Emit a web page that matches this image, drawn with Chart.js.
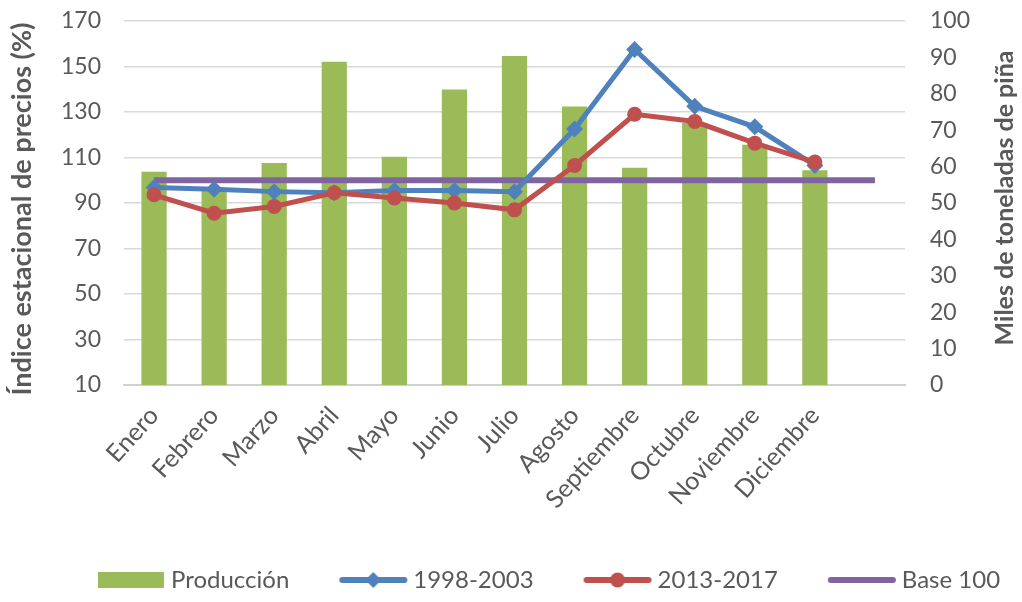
<!DOCTYPE html>
<html>
<head>
<meta charset="utf-8">
<script src="https://cdn.jsdelivr.net/npm/chart.js@4.4.1/dist/chart.umd.min.js"></script>
<style>
  html, body { margin: 0; padding: 0; background: #ffffff; }
  #wrap { width: 1022px; height: 602px; }
</style>
</head>
<body>
<div id="wrap"><canvas id="grafico" width="1022" height="602"></canvas></div>
<script>
// Categorías (la última ranura queda vacía para prolongar la línea base)
const meses = ['Enero', 'Febrero', 'Marzo', 'Abril', 'Mayo', 'Junio', 'Julio',
               'Agosto', 'Septiembre', 'Octubre', 'Noviembre', 'Diciembre', ''];

// Producción mensual (miles de toneladas de piña, eje derecho)
const produccion = [58.6, 53.5, 61, 88.8, 62.7, 81.2, 90.4, 76.5, 59.7, 72, 66, 59];

// Índice estacional de precios (%) por periodo (eje izquierdo)
const indice1998_2003 = [96.8, 96, 95, 94.5, 95.5, 95.5, 95, 122.5, 157.5, 132.5, 123.5, 106.5];
const indice2013_2017 = [93.6, 85.5, 88.5, 94.5, 92.2, 90, 87, 106.5, 129, 125.8, 116.3, 108];
const base100 = [100, 100, 100, 100, 100, 100, 100, 100, 100, 100, 100, 100, 100];

// Marcas de los ejes
const ticksPrecios = [10, 30, 50, 70, 90, 110, 130, 150, 170];
const ticksProduccion = [0, 10, 20, 30, 40, 50, 60, 70, 80, 90, 100];

const COLOR_TEXTO = '#595959';
const FUENTE = 'Lato, "Open Sans", sans-serif';
const VERDE = '#9BBB59';
const AZUL = '#4F81BD';
const ROJO = '#C0504D';
const MORADO = '#8064A2';

const AREA_SUP = 21;      // borde superior del área de trazado
const AREA_IZQ = 124;     // borde izquierdo del área de trazado
const AREA_DER = 905;     // borde derecho del área de trazado
const AREA_INF = 385;     // borde inferior del área de trazado
const EXTRA_DER = 81;     // ensancha la caja de la leyenda hacia la derecha
const CAJA_LEYENDA = 56;  // ancho reservado al icono de la leyenda
const SOBRANTE = 7;       // el icono sobresale a cada lado de su caja

// Iconos de la leyenda: rectángulo para barras, línea con marcador para series
function iconoLeyenda(tipo, color) {
  const c = document.createElement('canvas');
  c.width = CAJA_LEYENDA + 2 * SOBRANTE; c.height = 20;
  const g = c.getContext('2d');
  const w = c.width;
  g.fillStyle = color;
  g.strokeStyle = color;
  if (tipo === 'barra') {
    g.fillRect(2, 2, w - 4, 16);
  } else {
    g.lineWidth = 6;
    g.lineCap = 'round';
    g.beginPath();
    g.moveTo(4, 10); g.lineTo(w - 4, 10);
    g.stroke();
    const m = w / 2;
    if (tipo === 'rombo') {
      g.beginPath();
      g.moveTo(m, 2); g.lineTo(m + 8, 10); g.lineTo(m, 18); g.lineTo(m - 8, 10);
      g.closePath(); g.fill();
    } else if (tipo === 'circulo') {
      g.beginPath(); g.arc(m, 10, 7.5, 0, Math.PI * 2); g.fill();
    }
  }
  return c;
}
const iconos = [
  iconoLeyenda('barra', VERDE),
  iconoLeyenda('rombo', AZUL),
  iconoLeyenda('circulo', ROJO),
  iconoLeyenda('linea', MORADO)
];

// Títulos verticales de ambos ejes, leídos de abajo hacia arriba
function tituloVertical(ctx, texto, x, y, size) {
  ctx.save();
  ctx.fillStyle = COLOR_TEXTO;
  ctx.font = 'bold ' + size + 'px ' + FUENTE;
  ctx.textAlign = 'center';
  ctx.textBaseline = 'middle';
  ctx.translate(x, y);
  ctx.rotate(-Math.PI / 2);
  ctx.fillText(texto, 0, 0);
  ctx.restore();
}
const titulosEjes = {
  id: 'titulosEjes',
  afterDraw(chart) {
    const ctx = chart.ctx;
    tituloVertical(ctx, 'Índice estacional de precios (%)', 22, 209, 27);
    tituloVertical(ctx, 'Miles de toneladas de piña', 1005, 198, 25);
  }
};

// Fija el borde superior del área de trazado y de los ejes verticales
const ajusteArea = {
  id: 'ajusteArea',
  afterLayout(chart) {
    const area = chart.chartArea;
    area.top = AREA_SUP;
    area.height = area.bottom - AREA_SUP;
    ['y', 'y1'].forEach(id => {
      const s = chart.scales[id];
      s.top = AREA_SUP;
      s.height = s.bottom - AREA_SUP;
      s.configure();
    });
  }
};

new Chart(document.getElementById('grafico'), {
  type: 'bar',
  data: {
    labels: meses,
    datasets: [
      {
        type: 'bar',
        label: 'Producción',
        data: produccion,
        yAxisID: 'y1',
        backgroundColor: VERDE,
        borderWidth: 0,
        categoryPercentage: 1,
        barPercentage: 0.42,
        order: 4
      },
      {
        type: 'line',
        label: '1998-2003',
        data: indice1998_2003,
        yAxisID: 'y',
        borderColor: AZUL,
        backgroundColor: AZUL,
        borderWidth: 5,
        pointStyle: 'rectRot',
        pointRadius: 8.5,
        pointBorderWidth: 0,
        tension: 0,
        order: 2
      },
      {
        type: 'line',
        label: '2013-2017',
        data: indice2013_2017,
        yAxisID: 'y',
        borderColor: ROJO,
        backgroundColor: ROJO,
        borderWidth: 5,
        pointStyle: 'circle',
        pointRadius: 7.5,
        pointBorderWidth: 0,
        tension: 0,
        order: 1
      },
      {
        type: 'line',
        label: 'Base 100',
        data: base100,
        yAxisID: 'y',
        borderColor: MORADO,
        backgroundColor: MORADO,
        borderWidth: 6,
        pointRadius: 0,
        tension: 0,
        order: 3
      }
    ]
  },
  options: {
    responsive: false,
    devicePixelRatio: 1,
    animation: false,
    layout: { padding: { top: 2, bottom: 0, left: 0, right: -EXTRA_DER } },
    plugins: {
      tooltip: { enabled: false },
      legend: {
        position: 'bottom',
        labels: {
          usePointStyle: true,
          pointStyleWidth: CAJA_LEYENDA,
          boxHeight: 20,
          padding: 56,
          color: COLOR_TEXTO,
          font: { family: FUENTE, size: 24 },
          sort: (a, b) => a.datasetIndex - b.datasetIndex,
          generateLabels(chart) {
            const items = Chart.defaults.plugins.legend.labels.generateLabels(chart);
            items.forEach(it => { it.pointStyle = iconos[it.datasetIndex]; it.lineWidth = 0; });
            return items;
          }
        }
      }
    },
    scales: {
      x: {
        offset: true,
        grid: { display: false },
        border: { display: true, color: '#D0D0D0', width: 2 },
        ticks: {
          color: COLOR_TEXTO,
          font: { family: FUENTE, size: 25 },
          maxRotation: 48,
          minRotation: 48,
          autoSkip: false,
          padding: 8
        },
        afterFit(scale) {
          const leyenda = scale.chart.legend ? scale.chart.legend.height : 90;
          scale.height = scale.chart.height - AREA_INF - leyenda;
        }
      },
      y: {
        position: 'left',
        min: 10,
        max: 170,
        afterBuildTicks(scale) { scale.ticks = ticksPrecios.map(v => ({ value: v })); },
        grid: { color: '#D9D9D9', lineWidth: 1.5, drawTicks: false },
        border: { display: false },
        ticks: { color: COLOR_TEXTO, font: { family: FUENTE, size: 23 }, padding: 23 },
        afterFit(scale) { scale.width = AREA_IZQ; }
      },
      y1: {
        position: 'right',
        min: 0,
        max: 100,
        afterBuildTicks(scale) { scale.ticks = ticksProduccion.map(v => ({ value: v })); },
        grid: { display: false, drawTicks: false },
        border: { display: false },
        ticks: { color: COLOR_TEXTO, font: { family: FUENTE, size: 23 }, padding: 25 },
        afterFit(scale) { scale.width = scale.chart.width + EXTRA_DER - AREA_DER; }
      }
    }
  },
  plugins: [ajusteArea, titulosEjes]
});
</script>
</body>
</html>
